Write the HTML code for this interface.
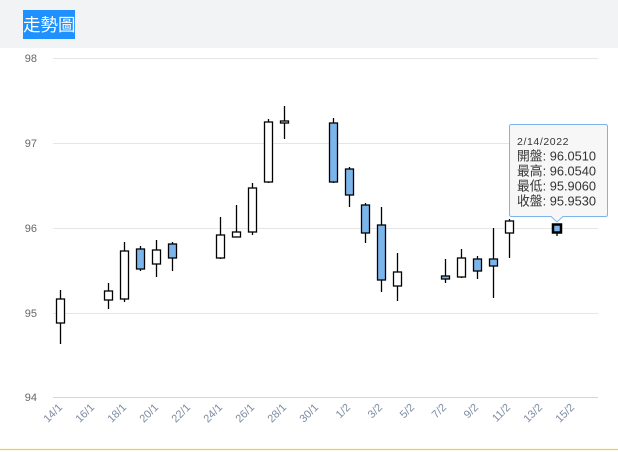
<!DOCTYPE html>
<html><head><meta charset="utf-8"><style>
body{margin:0;width:618px;height:452px;background:#fff;overflow:hidden;font-family:"Liberation Sans","Noto Sans CJK TC",sans-serif}
</style></head><body>
<svg width="618" height="452" xmlns="http://www.w3.org/2000/svg" style="position:absolute;left:0;top:0">
<rect x="0" y="0" width="618" height="48" fill="#f2f3f5"/>
<rect x="23" y="10" width="52" height="29" fill="#1e90ff"/>
<text x="23" y="31" fill="#fff" font-size="17.5" font-family="Liberation Sans,Noto Sans CJK TC,sans-serif">走勢圖</text>
<g stroke="#e6e6e6" stroke-width="1">
<line x1="53" y1="58.5" x2="598" y2="58.5"/><line x1="53" y1="143.5" x2="598" y2="143.5"/><line x1="53" y1="228.5" x2="598" y2="228.5"/><line x1="53" y1="313.5" x2="598" y2="313.5"/>
</g>
<line x1="53" y1="397.5" x2="598" y2="397.5" stroke="#ccd6eb"/>
<line x1="0" y1="449.5" x2="618" y2="449.5" stroke="#f5d22a" stroke-width="1.2"/>
<g fill="#666" font-size="11" text-anchor="end">
<text x="37" y="62">98</text><text x="37" y="147">97</text><text x="37" y="232">96</text><text x="37" y="317">95</text><text x="37" y="401">94</text>
</g>
<g fill="#7d8da3" font-size="11" text-anchor="end">
<text transform="translate(63,408) rotate(-45)">14/1</text>
<text transform="translate(95,408) rotate(-45)">16/1</text>
<text transform="translate(127,408) rotate(-45)">18/1</text>
<text transform="translate(159,408) rotate(-45)">20/1</text>
<text transform="translate(191,408) rotate(-45)">22/1</text>
<text transform="translate(223,408) rotate(-45)">24/1</text>
<text transform="translate(255,408) rotate(-45)">26/1</text>
<text transform="translate(287,408) rotate(-45)">28/1</text>
<text transform="translate(319,408) rotate(-45)">30/1</text>
<text transform="translate(351,408) rotate(-45)">1/2</text>
<text transform="translate(383,408) rotate(-45)">3/2</text>
<text transform="translate(415,408) rotate(-45)">5/2</text>
<text transform="translate(447,408) rotate(-45)">7/2</text>
<text transform="translate(479,408) rotate(-45)">9/2</text>
<text transform="translate(511,408) rotate(-45)">11/2</text>
<text transform="translate(543,408) rotate(-45)">13/2</text>
<text transform="translate(575,408) rotate(-45)">15/2</text>
</g>
<g stroke="#000" stroke-width="1.3">
<line x1="60.5" y1="290" x2="60.5" y2="344"/><rect x="56.5" y="299" width="8" height="24" fill="#fff"/>
<line x1="108.5" y1="283" x2="108.5" y2="309"/><rect x="104.5" y="291" width="8" height="9" fill="#fff"/>
<line x1="124.5" y1="242" x2="124.5" y2="302"/><rect x="120.5" y="251" width="8" height="48" fill="#fff"/>
<line x1="140.5" y1="246" x2="140.5" y2="271"/><rect x="136.5" y="249" width="8" height="20" fill="#7cb5ec"/>
<line x1="156.5" y1="240" x2="156.5" y2="277"/><rect x="152.5" y="250" width="8" height="14" fill="#fff"/>
<line x1="172.5" y1="242" x2="172.5" y2="271"/><rect x="168.5" y="244" width="8" height="14" fill="#7cb5ec"/>
<line x1="220.5" y1="217" x2="220.5" y2="259"/><rect x="216.5" y="235" width="8" height="23" fill="#fff"/>
<line x1="236.5" y1="205" x2="236.5" y2="237"/><rect x="232.5" y="232" width="8" height="5" fill="#fff"/>
<line x1="252.5" y1="183" x2="252.5" y2="235"/><rect x="248.5" y="188" width="8" height="44" fill="#fff"/>
<line x1="268.5" y1="119" x2="268.5" y2="183"/><rect x="264.5" y="122" width="8" height="60" fill="#fff"/>
<line x1="284.5" y1="106" x2="284.5" y2="139"/><rect x="280.5" y="121" width="8" height="2" fill="#fff"/>
<line x1="333.5" y1="118" x2="333.5" y2="183"/><rect x="329.5" y="123" width="8" height="59" fill="#7cb5ec"/>
<line x1="349.5" y1="167" x2="349.5" y2="207"/><rect x="345.5" y="169" width="8" height="26" fill="#7cb5ec"/>
<line x1="365.5" y1="203" x2="365.5" y2="243"/><rect x="361.5" y="205" width="8" height="28" fill="#7cb5ec"/>
<line x1="381.5" y1="207" x2="381.5" y2="292"/><rect x="377.5" y="225" width="8" height="55" fill="#7cb5ec"/>
<line x1="397.5" y1="253" x2="397.5" y2="301"/><rect x="393.5" y="272" width="8" height="14" fill="#fff"/>
<line x1="445.5" y1="259" x2="445.5" y2="283"/><rect x="441.5" y="276" width="8" height="3" fill="#7cb5ec"/>
<line x1="461.5" y1="249" x2="461.5" y2="278"/><rect x="457.5" y="258" width="8" height="19" fill="#fff"/>
<line x1="477.5" y1="256" x2="477.5" y2="279"/><rect x="473.5" y="259" width="8" height="12" fill="#7cb5ec"/>
<line x1="493.5" y1="228" x2="493.5" y2="298"/><rect x="489.5" y="259" width="8" height="7" fill="#7cb5ec"/>
<line x1="509.5" y1="219" x2="509.5" y2="258"/><rect x="505.5" y="221" width="8" height="12" fill="#fff"/>
<line x1="557" y1="224" x2="557" y2="236"/><rect x="553" y="224.5" width="8" height="8" fill="#7cb5ec" stroke-width="2.5"/>
</g>
<path d="M511.5,124.5 H605.5 Q607.5,124.5 607.5,126.5 V214.5 Q607.5,216.5 605.5,216.5 H563 L557,222 L551,216.5 H511.5 Q509.5,216.5 509.5,214.5 V126.5 Q509.5,124.5 511.5,124.5 Z" fill="#f7f7f7" stroke="#7cb5ec"/>
<g fill="#333" font-family="Liberation Sans,Noto Sans CJK TC,sans-serif">
<text x="517" y="145" font-size="10.5" letter-spacing="0.6">2/14/2022</text>
<text x="517" y="160.5" font-size="12.8">開盤: 96.0510</text>
<text x="517" y="175.5" font-size="12.8">最高: 96.0540</text>
<text x="517" y="190.5" font-size="12.8">最低: 95.9060</text>
<text x="517" y="205.5" font-size="12.8">收盤: 95.9530</text>
</g>
</svg>
</body></html>
